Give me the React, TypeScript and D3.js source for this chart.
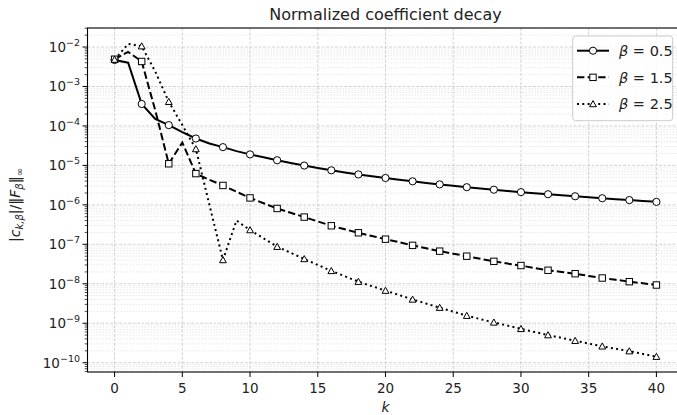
import React, { useEffect, useRef } from 'react';
import * as d3 from 'd3';

// k = 0..40
const ks = d3.range(0, 41);

const beta05 = [
  4.7e-3, 4.0e-3, 3.6e-4, 1.5e-4, 1.05e-4, 7.0e-5, 4.8e-5, 3.6e-5, 2.9e-5, 2.3e-5,
  1.9e-5, 1.6e-5, 1.35e-5, 1.15e-5, 9.9e-6, 8.6e-6, 7.5e-6, 6.6e-6, 5.9e-6, 5.3e-6,
  4.8e-6, 4.35e-6, 3.95e-6, 3.6e-6, 3.3e-6, 3.05e-6, 2.8e-6, 2.6e-6, 2.42e-6, 2.26e-6,
  2.1e-6, 1.98e-6, 1.86e-6, 1.75e-6, 1.65e-6, 1.55e-6, 1.47e-6, 1.39e-6, 1.32e-6, 1.25e-6,
  1.19e-6,
];

const beta15 = [
  4.9e-3, 7.5e-3, 4.3e-3, 2.5e-4, 1.1e-5, 3.8e-5, 6.2e-6, 4.3e-6, 3.1e-6, 2.15e-6,
  1.5e-6, 1.1e-6, 8.1e-7, 6.3e-7, 4.9e-7, 3.8e-7, 2.95e-7, 2.4e-7, 1.96e-7, 1.62e-7,
  1.35e-7, 1.13e-7, 9.4e-8, 7.9e-8, 6.7e-8, 5.8e-8, 5.0e-8, 4.3e-8, 3.7e-8, 3.25e-8,
  2.9e-8, 2.5e-8, 2.2e-8, 2.0e-8, 1.8e-8, 1.58e-8, 1.4e-8, 1.26e-8, 1.13e-8, 1.03e-8,
  9.3e-9,
];

const beta25 = [
  4.8e-3, 1.2e-2, 1.05e-2, 2.4e-3, 4.1e-4, 1.05e-4, 2.6e-5, 1.0e-6, 4.0e-8, 4.0e-7,
  2.3e-7, 1.42e-7, 8.7e-8, 6.1e-8, 4.25e-8, 3.0e-8, 2.12e-8, 1.55e-8, 1.13e-8, 8.7e-9,
  6.7e-9, 5.2e-9, 4.0e-9, 3.15e-9, 2.48e-9, 1.96e-9, 1.55e-9, 1.27e-9, 1.05e-9, 8.7e-10,
  7.2e-10, 6.0e-10, 5.0e-10, 4.25e-10, 3.6e-10, 3.05e-10, 2.6e-10, 2.25e-10, 1.96e-10, 1.67e-10,
  1.42e-10,
];

const seriesLabels = ['0.5', '1.5', '2.5'];
const xTicks = [0, 5, 10, 15, 20, 25, 30, 35, 40];
const yExponents = [-2, -3, -4, -5, -6, -7, -8, -9, -10];

const App = () => {
  const ref = useRef<SVGSVGElement>(null);
  const width = 677;
  const height = 415;
  const margin = { top: 28, left: 87.5, bottom: 372, right: 683.5 };
  const font = 'DejaVu Sans, sans-serif';

  useEffect(() => {
    const svg = d3.select(ref.current);
    svg.selectAll('*').remove();

    const x = d3.scaleLinear().domain([-2, 42]).range([margin.left, margin.right]);
    const y = d3
      .scaleLog()
      .domain([Math.pow(10, -10.236), Math.pow(10, -1.518)])
      .range([margin.bottom, margin.top]);

    const plot = svg.append('g');

    // minor grid (y)
    const minors: number[] = [];
    for (let e = -11; e <= -1; e++) {
      for (let m = 2; m <= 9; m++) {
        const v = m * Math.pow(10, e);
        if (v > y.domain()[0] && v < y.domain()[1]) minors.push(v);
      }
    }
    plot
      .selectAll('.minor')
      .data(minors)
      .enter()
      .append('line')
      .attr('x1', margin.left)
      .attr('x2', margin.right)
      .attr('y1', (d) => y(d))
      .attr('y2', (d) => y(d))
      .attr('stroke', '#d6d6d6')
      .attr('stroke-width', 0.6)
      .attr('stroke-dasharray', '1.5,1.5');

    // major grid
    plot
      .selectAll('.gy')
      .data(yExponents)
      .enter()
      .append('line')
      .attr('x1', margin.left)
      .attr('x2', margin.right)
      .attr('y1', (d) => y(Math.pow(10, d)))
      .attr('y2', (d) => y(Math.pow(10, d)))
      .attr('stroke', '#c8c8c8')
      .attr('stroke-width', 0.8)
      .attr('stroke-dasharray', '3,1.5');
    plot
      .selectAll('.gx')
      .data(xTicks)
      .enter()
      .append('line')
      .attr('x1', (d) => x(d))
      .attr('x2', (d) => x(d))
      .attr('y1', margin.top)
      .attr('y2', margin.bottom)
      .attr('stroke', '#c8c8c8')
      .attr('stroke-width', 0.8)
      .attr('stroke-dasharray', '3,1.5');

    const line = d3
      .line<number>()
      .x((d, i) => x(ks[i]))
      .y((d) => y(d));

    const dashes = [null, '7.4,3.2', '2,3.3'];
    const datasets = [beta05, beta15, beta25];

    const drawMarker = (g: any, kind: number, cx: number, cy: number) => {
      if (kind === 0) {
        g.append('circle')
          .attr('cx', cx)
          .attr('cy', cy)
          .attr('r', 3.6)
          .attr('fill', 'white')
          .attr('stroke', 'black')
          .attr('stroke-width', 1);
      } else if (kind === 1) {
        g.append('rect')
          .attr('x', cx - 3.2)
          .attr('y', cy - 3.2)
          .attr('width', 6.4)
          .attr('height', 6.4)
          .attr('fill', 'white')
          .attr('stroke', 'black')
          .attr('stroke-width', 1);
      } else {
        const s = 3.4;
        g.append('path')
          .attr('d', `M${cx},${cy - s}L${cx + s},${cy + s * 0.8}L${cx - s},${cy + s * 0.8}Z`)
          .attr('fill', 'white')
          .attr('stroke', 'black')
          .attr('stroke-width', 1);
      }
    };

    datasets.forEach((values, index) => {
      plot
        .append('path')
        .datum(values)
        .attr('fill', 'none')
        .attr('stroke', 'black')
        .attr('stroke-width', 2)
        .attr('stroke-dasharray', dashes[index])
        .attr('d', line);

      // markers every 2nd point
      values.forEach((v, i) => {
        if (i % 2 === 0) drawMarker(plot, index, x(ks[i]), y(v));
      });
    });

    // spines
    svg
      .append('rect')
      .attr('x', margin.left)
      .attr('y', margin.top)
      .attr('width', margin.right - margin.left)
      .attr('height', margin.bottom - margin.top)
      .attr('fill', 'none')
      .attr('stroke', 'black')
      .attr('stroke-width', 1.1);

    // x ticks
    xTicks.forEach((t) => {
      svg
        .append('line')
        .attr('x1', x(t))
        .attr('x2', x(t))
        .attr('y1', margin.bottom)
        .attr('y2', margin.bottom + 5)
        .attr('stroke', 'black')
        .attr('stroke-width', 1);
      svg
        .append('text')
        .attr('x', x(t))
        .attr('y', 392.5)
        .attr('text-anchor', 'middle')
        .style('font-family', font)
        .style('font-size', '13.5px')
        .attr('fill', '#222')
        .text(t);
    });

    // y ticks
    minors.forEach((v) => {
      svg
        .append('line')
        .attr('x1', margin.left - 2.8)
        .attr('x2', margin.left)
        .attr('y1', y(v))
        .attr('y2', y(v))
        .attr('stroke', 'black')
        .attr('stroke-width', 0.7);
    });
    yExponents.forEach((e) => {
      const yy = y(Math.pow(10, e));
      svg
        .append('line')
        .attr('x1', margin.left - 5)
        .attr('x2', margin.left)
        .attr('y1', yy)
        .attr('y2', yy)
        .attr('stroke', 'black')
        .attr('stroke-width', 1);
      const t = svg
        .append('text')
        .attr('x', 80)
        .attr('y', yy + 5)
        .attr('text-anchor', 'end')
        .style('font-family', font)
        .style('font-size', '13.5px')
        .attr('fill', '#222');
      t.append('tspan').text('10');
      t.append('tspan')
        .attr('dy', -6)
        .style('font-size', '9.5px')
        .text(`\u2212${-e}`);
    });

    // title
    svg
      .append('text')
      .attr('x', (margin.left + margin.right) / 2)
      .attr('y', 20)
      .attr('text-anchor', 'middle')
      .style('font-family', font)
      .style('font-size', '16px')
      .attr('fill', '#222')
      .text('Normalized coefficient decay');

    // x label
    svg
      .append('text')
      .attr('x', (margin.left + margin.right) / 2)
      .attr('y', 412)
      .attr('text-anchor', 'middle')
      .style('font-family', font)
      .style('font-size', '14px')
      .style('font-style', 'italic')
      .attr('fill', '#222')
      .text('k');

    // y label
    const yl = svg
      .append('text')
      .attr('transform', `translate(20, 205) rotate(-90)`)
      .attr('text-anchor', 'middle')
      .style('font-family', font)
      .style('font-size', '14px')
      .attr('fill', '#222');
    yl.append('tspan').text('|');
    yl.append('tspan').style('font-style', 'italic').text('c');
    yl.append('tspan').attr('dy', 3).style('font-size', '10px').style('font-style', 'italic').text('k,\u03b2');
    yl.append('tspan').attr('dy', -3).text('|/\u2016');
    yl.append('tspan').style('font-style', 'italic').text('F');
    yl.append('tspan').attr('dy', 3).style('font-size', '10px').style('font-style', 'italic').text('\u03b2');
    yl.append('tspan').attr('dy', -3).text('\u2016');
    yl.append('tspan').attr('dy', 3).style('font-size', '10px').text('\u221e');

    // legend
    const legend = svg.append('g');
    legend
      .append('rect')
      .attr('x', 572.7)
      .attr('y', 36)
      .attr('width', 100)
      .attr('height', 84.7)
      .attr('rx', 3)
      .attr('fill', 'white')
      .attr('fill-opacity', 0.8)
      .attr('stroke', '#cccccc')
      .attr('stroke-width', 1);

    seriesLabels.forEach((label, index) => {
      const cy = 50.7 + index * 26.65;
      legend
        .append('line')
        .attr('x1', 577)
        .attr('x2', 609)
        .attr('y1', cy)
        .attr('y2', cy)
        .attr('stroke', 'black')
        .attr('stroke-width', 2)
        .attr('stroke-dasharray', dashes[index]);
      drawMarker(legend, index, 593, cy);
      const t = legend
        .append('text')
        .attr('x', 619)
        .attr('y', cy + 5.3)
        .style('font-family', font)
        .style('font-size', '14.5px')
        .attr('fill', '#222');
      t.append('tspan').style('font-style', 'italic').text('\u03b2');
      t.append('tspan').text(` = ${label}`);
    });
  }, []);

  return (
    <svg
      ref={ref}
      width={width}
      height={height}
      style={{ position: 'absolute', left: 0, top: 0, background: 'white' }}
    ></svg>
  );
};

export default App;
